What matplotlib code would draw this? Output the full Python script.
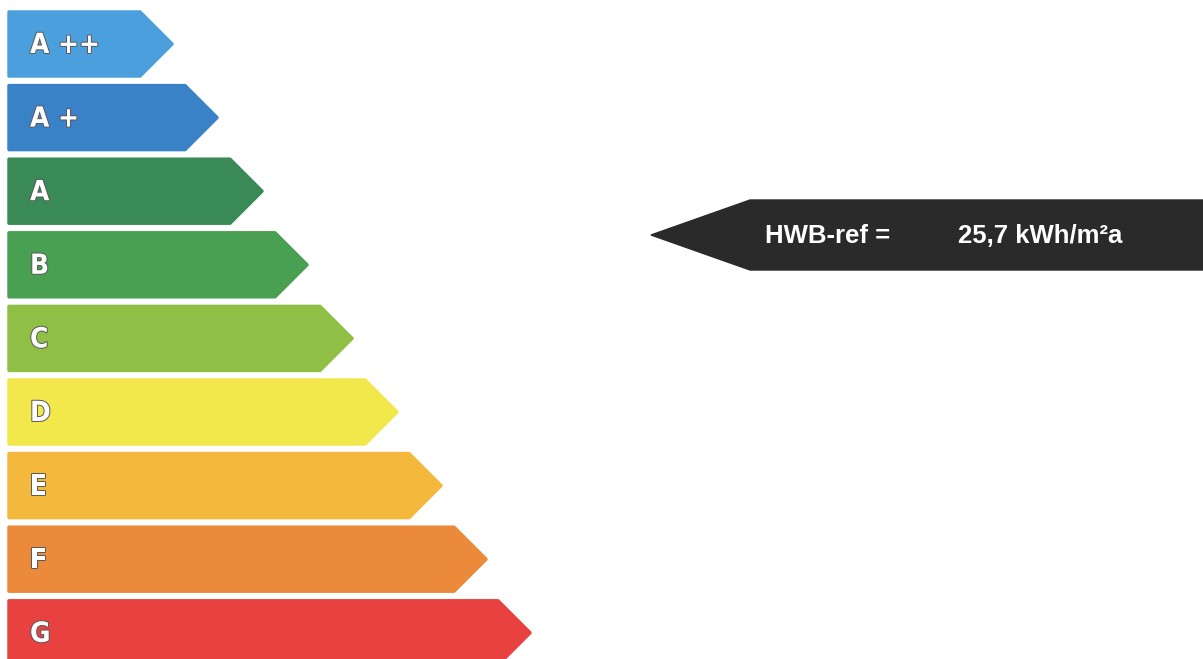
import matplotlib.pyplot as plt
from matplotlib.patches import Polygon
import matplotlib.patheffects as pe

# energy classes, top to bottom
classes = ['A ++', 'A +', 'A', 'B', 'C', 'D', 'E', 'F', 'G']
colors = ['#4b9fdc', '#3a82c8', '#3a8a58', '#4aa052', '#8fc045',
          '#f2e84c', '#f4b93c', '#ec8a3c', '#e8413f']
# arrow tip position of each class bar (pixel scale of the label)
bar_ends = [172, 217, 262, 307, 352, 397, 441, 486, 530]

ref_label = 'HWB-ref ='
ref_value = '25,7 kWh/m²a'

W, H = 1203, 659
fig = plt.figure(figsize=(W / 100, H / 100), dpi=100)
ax = fig.add_axes([0, 0, 1, 1])
ax.set_xlim(0, W)
ax.set_ylim(H, 0)
ax.axis('off')

left = 9
top = 12
pitch = 73.6
bh = 64
tip = 32

for i, (lab, col, end) in enumerate(zip(classes, colors, bar_ends)):
    y0 = top + i * pitch
    y1 = y0 + bh
    ym = (y0 + y1) / 2
    pts = [(left, y0), (end - tip, y0), (end, ym), (end - tip, y1), (left, y1)]
    ax.add_patch(Polygon(pts, closed=True, facecolor=col, edgecolor=col,
                         linewidth=2.5, joinstyle='round'))
    ax.text(left + 21, ym + 1, lab, color='white', fontsize=20,
            fontweight='bold', family=['DejaVu Sans'], stretch='condensed',
            ha='left', va='center',
            path_effects=[pe.withStroke(linewidth=1.4, foreground='#5a5a5a')])

# reference arrow
ay0, ay1 = 200, 270
aym = (ay0 + ay1) / 2
ax.add_patch(Polygon([(651, aym), (750, ay0), (W, ay0), (W, ay1), (750, ay1)],
                     closed=True, facecolor='#2a2a2a', edgecolor='#2a2a2a',
                     linewidth=1))
ax.text(765, aym + 1, ref_label, color='white', fontsize=18.5, fontweight='bold',
        family='Liberation Sans', ha='left', va='center')
ax.text(958, aym + 1, ref_value, color='white', fontsize=18.5, fontweight='bold',
        family='Liberation Sans', ha='left', va='center')

fig.savefig('out.png', dpi=100, facecolor='white')
